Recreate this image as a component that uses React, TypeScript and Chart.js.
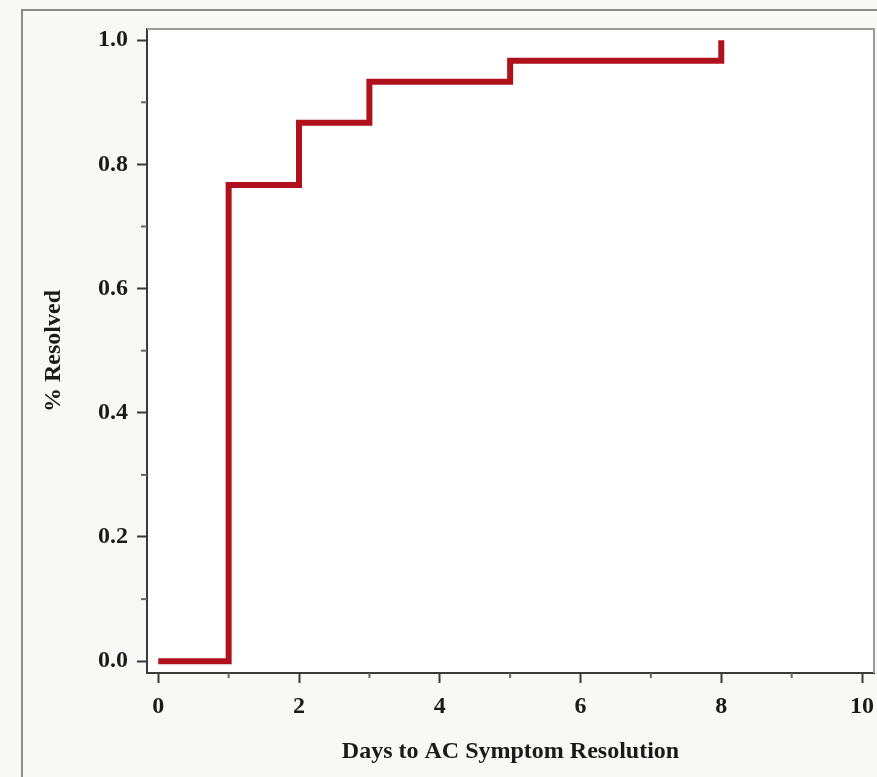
import React, { useEffect, useRef } from "react";
import { Chart, registerables } from "chart.js";

Chart.register(...registerables);

// ---- data ----
const days = [0, 1, 2, 3, 5, 8];
const resolved = [0, 0.767, 0.867, 0.933, 0.967, 1.0];
const xMajorTicks = [0, 2, 4, 6, 8, 10];
const xMinorTicks = [1, 3, 5, 7, 9];
const yMajorTicks = [0, 0.2, 0.4, 0.6, 0.8, 1.0];
const yMinorTicks = [0.1, 0.3, 0.5, 0.7, 0.9];
const xTitle = "Days to AC Symptom Resolution";
const yTitle = "% Resolved";

const FONT = "'Liberation Serif', 'Times New Roman', serif";
const TEXT = "#1a1a1a";
const AXIS = "#3a3a3a";

const framePlugin = {
  id: "frameAndMinor",
  beforeDraw(chart: any) {
    const { ctx, chartArea: a } = chart;
    ctx.save();
    ctx.fillStyle = "#ffffff";
    ctx.fillRect(a.left, a.top, a.right - a.left, a.bottom - a.top);
    ctx.restore();
  },
  afterDraw(chart: any) {
    const { ctx, chartArea: a, scales } = chart;
    ctx.save();
    ctx.strokeStyle = "#9a9a9a";
    ctx.lineWidth = 2;
    ctx.beginPath();
    ctx.moveTo(a.left, a.top);
    ctx.lineTo(a.right, a.top);
    ctx.lineTo(a.right, a.bottom);
    ctx.stroke();
    ctx.strokeStyle = "#666";
    ctx.lineWidth = 2;
    yMinorTicks.forEach((v) => {
      const y = scales.y.getPixelForValue(v);
      ctx.beginPath();
      ctx.moveTo(a.left - 6, y);
      ctx.lineTo(a.left, y);
      ctx.stroke();
    });
    xMinorTicks.forEach((v) => {
      const x = scales.x.getPixelForValue(v);
      ctx.beginPath();
      ctx.moveTo(x, a.bottom);
      ctx.lineTo(x, a.bottom + 5);
      ctx.stroke();
    });
    ctx.restore();
  },
};

export default function App() {
  const ref = useRef<HTMLCanvasElement | null>(null);

  useEffect(() => {
    document.body.style.margin = "0";
    const canvas = ref.current;
    if (!canvas) return;
    const chart = new Chart(canvas, {
      type: "line",
      data: {
        datasets: [
          {
            data: days.map((d, i) => ({ x: d, y: resolved[i] })),
            borderColor: "#b0111d",
            borderWidth: 6,
            stepped: "before",
            pointRadius: 0,
            fill: false,
            borderCapStyle: "butt",
            borderJoinStyle: "miter",
          },
        ],
      },
      options: {
        responsive: false,
        animation: false,
        devicePixelRatio: 1,
        layout: { padding: { top: 29, right: 3, left: 0, bottom: 0 } },
        plugins: { legend: { display: false }, tooltip: { enabled: false } },
        scales: {
          x: {
            type: "linear",
            min: -0.16,
            max: 10.17,
            afterBuildTicks: (s: any) => {
              s.ticks = xMajorTicks.map((v) => ({ value: v }));
            },
            afterFit: (s: any) => {
              s.height = 104;
              s.paddingLeft = 0;
              s.paddingRight = 0;
            },
            ticks: {
              callback: (v: any) => String(v),
              color: TEXT,
              font: { family: FONT, size: 24, weight: "bold" },
              padding: 9,
              maxRotation: 0,
            },
            grid: {
              drawOnChartArea: false,
              drawTicks: true,
              tickLength: 10,
              tickColor: AXIS,
              tickWidth: 2,
            },
            border: { display: true, color: AXIS, width: 2 },
            title: {
              display: true,
              text: xTitle,
              color: TEXT,
              font: { family: FONT, size: 24, weight: "bold" },
              padding: { top: 0, bottom: 11 },
            },
          },
          y: {
            type: "linear",
            min: -0.019,
            max: 1.018,
            afterBuildTicks: (s: any) => {
              s.ticks = yMajorTicks.map((v) => ({ value: v }));
            },
            afterFit: (s: any) => {
              s.width = 147;
              s.paddingTop = 0;
              s.paddingBottom = 0;
            },
            ticks: {
              callback: (v: any) => Number(v).toFixed(1),
              color: TEXT,
              font: { family: FONT, size: 24, weight: "bold" },
              padding: 9,
            },
            grid: {
              drawOnChartArea: false,
              drawTicks: true,
              tickLength: 10,
              tickColor: AXIS,
              tickWidth: 2,
            },
            border: { display: true, color: AXIS, width: 2 },
            title: {
              display: true,
              text: yTitle,
              color: TEXT,
              font: { family: FONT, size: 24, weight: "bold" },
              padding: { top: 39, bottom: 0 },
            },
          },
        },
      },
      plugins: [framePlugin],
    } as any);
    return () => chart.destroy();
  }, []);

  return (
    <div
      style={{
        position: "absolute",
        left: 0,
        top: 0,
        width: 877,
        height: 777,
        overflow: "hidden",
        background: "#f8f8f7",
      }}
    >
      <div
        style={{
          position: "absolute",
          left: 21,
          top: 9,
          width: 900,
          height: 800,
          borderLeft: "2px solid #8a8a8a",
          borderTop: "2px solid #8a8a8a",
        }}
      />
      <canvas
        ref={ref}
        width={877}
        height={777}
        style={{ position: "absolute", left: 0, top: 0, width: 877, height: 777 }}
      />
    </div>
  );
}
